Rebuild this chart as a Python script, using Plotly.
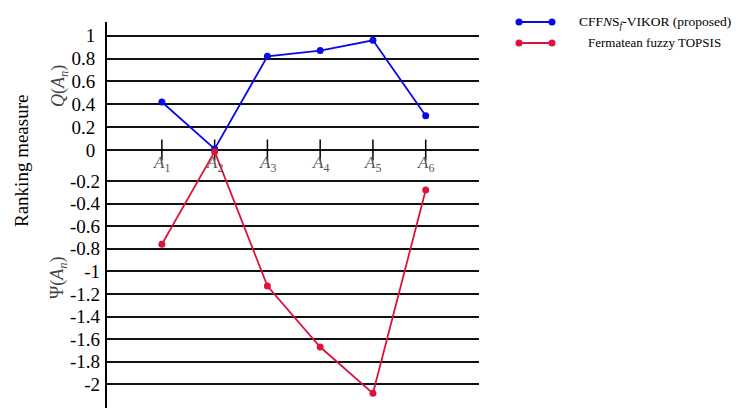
import plotly.graph_objects as go

# alternatives and the two ranking measures
alternatives = ["A1", "A2", "A3", "A4", "A5", "A6"]
alt_labels = ["<i>A</i><sub>%d</sub>" % i for i in range(1, 7)]
q_vikor = [0.42, 0.01, 0.82, 0.87, 0.96, 0.30]
psi_topsis = [-0.76, 0.06, -1.13, -1.67, -2.08, -0.28]

q_ticks = [0, 0.2, 0.4, 0.6, 0.8, 1]
q_ticktext = ["0", "0.2", "0.4", "0.6", "0.8", "1"]
psi_ticks = [-0.2, -0.4, -0.6, -0.8, -1, -1.2, -1.4, -1.6, -1.8, -2]
psi_ticktext = ["-0.2", "-0.4", "-0.6", "-0.8", "-1", "-1.2", "-1.4", "-1.6", "-1.8", "-2"]

BLUE = "#0a0ae6"
RED = "#dc143c"
SERIF = "Liberation Serif, Times New Roman, serif"

# page body has an 8px margin, so the figure is laid out in page pixels minus 8
OFF = 8
W, H = 753 - OFF, 413 - OFF
L, R, T, B = 107 - OFF, 753 - 479, 22 - OFF, 413 - 408
pw, ph = W - L - R, H - T - B


def px(x):
    return (x - OFF - L) / pw


def py(y):
    return (H - B - (y - OFF)) / ph


fig = go.Figure()

# small vertical ticks crossing the zero line
fig.add_trace(go.Scatter(
    x=alternatives, y=[0] * len(alternatives), mode="markers", yaxis="y",
    marker=dict(symbol="line-ns", size=15, line=dict(color="black", width=1.5)),
    showlegend=False, hoverinfo="skip"))
fig.add_trace(go.Scatter(
    x=alternatives, y=psi_topsis, mode="lines+markers", yaxis="y2",
    line=dict(color=RED, width=1.8), marker=dict(color=RED, size=7),
    showlegend=False))
fig.add_trace(go.Scatter(
    x=alternatives, y=q_vikor, mode="lines+markers", yaxis="y",
    line=dict(color=BLUE, width=1.8), marker=dict(color=BLUE, size=7),
    showlegend=False))

annotations = []
for a, lab in zip(alternatives, alt_labels):
    annotations.append(dict(x=a, y=0, xref="x", yref="y", xanchor="center", yanchor="top",
                            yshift=-1, text=lab, showarrow=False,
                            font=dict(family=SERIF, size=17, color="#555")))


def label(x, y, text, size, color="black", angle=0):
    return dict(x=px(x), y=py(y), xref="paper", yref="paper", xanchor="center",
                yanchor="middle", text=text, textangle=angle, showarrow=False,
                font=dict(family=SERIF, size=size, color=color))


annotations += [
    label(22, 161, "Ranking measure", 19, angle=-90),
    label(59, 86, "<i>Q</i>(<i>A</i><sub><i>n</i></sub>)", 18, "#444", -90),
    label(58, 278, "Ψ(<i>A</i><sub><i>n</i></sub>)", 18, "#444", -90),
    label(655, 22, "CFF<i>N</i>S<sub><i>f</i></sub>-VIKOR (proposed)", 13.5),
    label(654, 43, "Fermatean fuzzy TOPSIS", 13),
]

# legend samples: a line with a dot at each end
shapes = []
for yy, col in [(22, BLUE), (43, RED)]:
    shapes.append(dict(type="line", xref="paper", yref="paper", x0=px(519), x1=px(552),
                       y0=py(yy), y1=py(yy), line=dict(color=col, width=1.8)))
    for xx in (519, 552):
        shapes.append(dict(type="circle", xref="paper", yref="paper",
                           xsizemode="pixel", ysizemode="pixel",
                           xanchor=px(xx), yanchor=py(yy), x0=-3.5, x1=3.5, y0=-3.5, y1=3.5,
                           fillcolor=col, line=dict(color=col, width=0)))

fig.update_layout(
    width=W, height=H,
    margin=dict(l=L, r=R, t=T, b=B),
    paper_bgcolor="white", plot_bgcolor="white",
    font=dict(family=SERIF, color="black"),
    xaxis=dict(type="category", categoryorder="array", categoryarray=alternatives,
               range=[-1.04, 6.01], showgrid=False, zeroline=False,
               showticklabels=False, ticks="", showline=False),
    yaxis=dict(range=[-2.257, 1.12], tickvals=q_ticks, ticktext=q_ticktext,
               showgrid=True, gridcolor="#111", gridwidth=2, zeroline=False,
               showline=True, linecolor="black", linewidth=2, ticks="",
               ticklabelstandoff=6, tickfont=dict(family=SERIF, size=19, color="black")),
    yaxis2=dict(range=[-2.21, 1.208], overlaying="y", side="left",
                tickvals=psi_ticks, ticktext=psi_ticktext,
                showgrid=True, gridcolor="#111", gridwidth=2, zeroline=False,
                showline=False, ticks="",
                ticklabelstandoff=6, tickfont=dict(family=SERIF, size=19, color="black")),
    annotations=annotations,
    shapes=shapes,
    showlegend=False,
)

fig.write_html("out.html")
